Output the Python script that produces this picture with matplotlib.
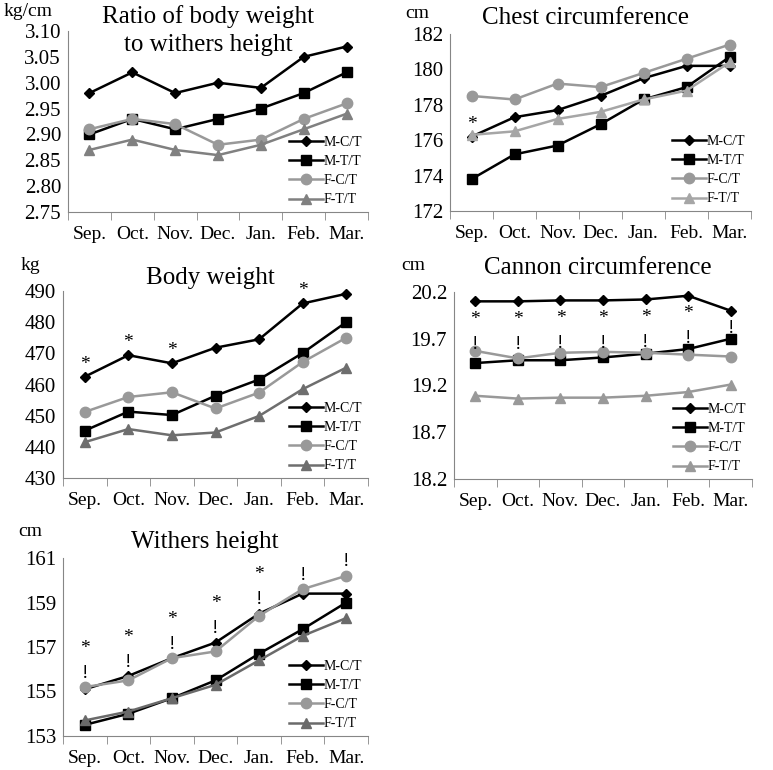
import matplotlib
matplotlib.use("Agg")
import matplotlib.pyplot as plt

plt.rcParams['font.family'] = ['Liberation Serif', 'DejaVu Serif']

months = ['Sep.', 'Oct.', 'Nov.', 'Dec.', 'Jan.', 'Feb.', 'Mar.']
groups = ['M-C/T', 'M-T/T', 'F-C/T', 'F-T/T']

ratio_mct = [2.98, 3.02, 2.98, 3.00, 2.99, 3.05, 3.07]
ratio_mtt = [2.90, 2.93, 2.91, 2.93, 2.95, 2.98, 3.02]
ratio_fct = [2.91, 2.93, 2.92, 2.88, 2.89, 2.93, 2.96]
ratio_ftt = [2.87, 2.89, 2.87, 2.86, 2.88, 2.91, 2.94]

chest_mct = [176.2, 177.3, 177.7, 178.5, 179.5, 180.2, 180.2]
chest_mtt = [173.8, 175.2, 175.7, 176.9, 178.3, 179.0, 180.7]
chest_fct = [178.5, 178.3, 179.2, 179.0, 179.8, 180.6, 181.4]
chest_ftt = [176.3, 176.5, 177.2, 177.6, 178.3, 178.8, 180.4]
chest_marks = ['*', '', '', '', '', '', '']

weight_mct = [462.5, 469.4, 466.8, 471.8, 474.5, 486.0, 489.1]
weight_mtt = [445.2, 451.3, 450.2, 456.4, 461.6, 470.1, 480.0]
weight_fct = [451.2, 456.0, 457.5, 452.3, 457.4, 467.2, 475.0]
weight_ftt = [441.5, 445.7, 443.7, 444.6, 449.9, 458.5, 465.4]
weight_marks = ['*', '*', '*', '', '', '*', '']

cannon_mct = [20.10, 20.10, 20.11, 20.11, 20.12, 20.16, 20.00]
cannon_mtt = [19.44, 19.47, 19.47, 19.50, 19.54, 19.59, 19.70]
cannon_fct = [19.57, 19.49, 19.55, 19.56, 19.55, 19.53, 19.51]
cannon_ftt = [19.09, 19.06, 19.07, 19.07, 19.09, 19.13, 19.21]
cannon_marks = ['*!', '*!', '*!', '*!', '*!', '*!', '!']

withers_mct = [155.1, 155.7, 156.5, 157.2, 158.5, 159.4, 159.4]
withers_mtt = [153.5, 154.0, 154.7, 155.5, 156.7, 157.8, 159.0]
withers_fct = [155.2, 155.5, 156.5, 156.8, 158.4, 159.6, 160.2]
withers_ftt = [153.7, 154.1, 154.7, 155.3, 156.4, 157.5, 158.3]
withers_marks = ['*!', '*!', '*!', '*!', '*!', '!', '!']

W, H = 773, 770
fig = plt.figure(figsize=(W / 100, H / 100), dpi=100)


def box(left, top, right, bottom):
    return [left / W, 1 - bottom / H, (right - left) / W, (bottom - top) / H]


def ftext(x, y, s, size, ha='center'):
    fig.text(x / W, 1 - y / H, s, fontsize=size, ha=ha, va='center')


def panel(rect, series, ftt_color, ylim, yticks, fmt):
    ax = fig.add_axes(rect)
    styles = [('D', 5.0, 'black'), ('s', 6.5, 'black'),
              ('o', 7.5, '#999999'), ('^', 7.5, ftt_color)]
    x = range(len(months))
    for vals, name, (m, ms, c) in zip(series, groups, styles):
        ax.plot(x, vals, color=c, lw=1.8, marker=m, ms=ms, label=name,
                clip_on=False)
    ax.set_xlim(-0.5, 6.5)
    ax.set_ylim(*ylim)
    ax.set_yticks(yticks)
    ax.set_yticklabels([fmt.format(v) for v in yticks])
    ax.set_xticks(list(x))
    ax.set_xticklabels(months)
    ax.set_xticks([i + 0.5 for i in range(-1, 7)], minor=True)
    ax.tick_params(axis='x', which='major', length=0, pad=10, labelsize=14)
    ax.tick_params(axis='x', which='minor', length=6, color='#868686',
                   direction='out')
    ax.tick_params(axis='y', length=0, pad=5, labelsize=15)
    for s in ['top', 'right']:
        ax.spines[s].set_visible(False)
    for s in ['left', 'bottom']:
        ax.spines[s].set_color('#868686')
    ax.legend(loc='lower right', frameon=False, fontsize=10,
              handlelength=2.4, handletextpad=0.1, labelspacing=0.45,
              borderaxespad=0.0, bbox_to_anchor=(1.0, 0.0))
    return ax


def marks(ax, ref, labels, first, step):
    for i, (v, lab) in enumerate(zip(ref, labels)):
        for k, ch in enumerate(lab):
            ax.annotate(ch, (i, v), xytext=(0, first + k * step),
                        textcoords='offset points', ha='center',
                        va='center', fontsize=14)


# ratio
ax1 = panel(box(68, 31, 368, 212),
            [ratio_mct, ratio_mtt, ratio_fct, ratio_ftt], '#808080',
            (2.75, 3.10), [2.75 + 0.05 * i for i in range(8)], '{:.2f}')
ftext(208, 17, 'Ratio of body weight', 18)
ftext(208, 45, 'to withers height', 18)
ftext(4, 11, 'kg/cm', 14, ha='left')

# chest
ax2 = panel(box(450, 34, 751, 211),
            [chest_mct, chest_mtt, chest_fct, chest_ftt], '#a6a6a6',
            (172, 182), list(range(172, 183, 2)), '{:d}')
marks(ax2, chest_mct, chest_marks, 9, 0)
ftext(585, 18, 'Chest circumference', 18)
ftext(417, 13, 'cm', 14)

# body weight
ax3 = panel(box(63, 291, 368, 478),
            [weight_mct, weight_mtt, weight_fct, weight_ftt], '#6e6e6e',
            (430, 490), list(range(430, 491, 10)), '{:d}')
marks(ax3, weight_mct, weight_marks, 9, 0)
ftext(210, 278, 'Body weight', 18)
ftext(30, 266, 'kg', 14)

# cannon
ax4 = panel(box(454, 292, 752, 479),
            [cannon_mct, cannon_mtt, cannon_fct, cannon_ftt], '#999999',
            (18.2, 20.2), [18.2 + 0.5 * i for i in range(5)], '{:.1f}')
marks(ax4, cannon_mct, cannon_marks, -13, -18)
ftext(598, 268, 'Cannon circumference', 18)
ftext(413, 266, 'cm', 14)

# withers
ax5 = panel(box(63, 558, 368, 736),
            [withers_mct, withers_mtt, withers_fct, withers_ftt], '#6a6a6a',
            (153, 161), list(range(153, 162, 2)), '{:d}')
top_withers = [max(a, b) for a, b in zip(withers_mct, withers_fct)]
marks(ax5, top_withers, [s[::-1] for s in withers_marks], 10, 18)
ftext(205, 542, 'Withers height', 18)
ftext(30, 531, 'cm', 14)

fig.savefig('out.png', dpi=100)
